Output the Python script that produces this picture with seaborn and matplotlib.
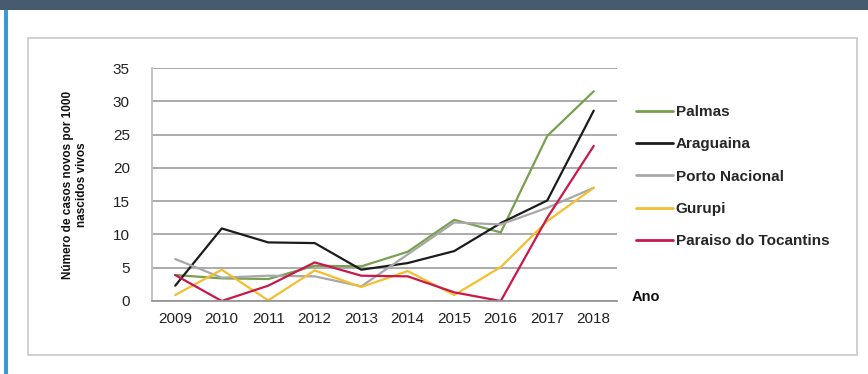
import matplotlib
matplotlib.use("Agg")
import matplotlib.pyplot as plt
import seaborn as sns
import pandas as pd
from matplotlib.patches import Rectangle
from matplotlib.lines import Line2D

years = [2009, 2010, 2011, 2012, 2013, 2014, 2015, 2016, 2017, 2018]
palmas = [3.9, 3.4, 3.3, 5.3, 5.2, 7.4, 12.2, 10.3, 24.8, 31.5]
araguaina = [2.3, 10.9, 8.8, 8.7, 4.7, 5.7, 7.5, 11.7, 15.1, 28.6]
porto_nacional = [6.3, 3.5, 3.8, 3.7, 2.2, 7.0, 11.8, 11.5, 14.0, 17.0]
gurupi = [0.9, 4.7, 0.1, 4.6, 2.1, 4.5, 0.9, 5.1, 12.0, 17.0]
paraiso = [3.9, 0.0, 2.3, 5.8, 3.8, 3.7, 1.3, 0.0, 12.5, 23.3]

series_names = ["Palmas", "Araguaina", "Porto Nacional", "Gurupi", "Paraiso do Tocantins"]
series_vals = [palmas, araguaina, porto_nacional, gurupi, paraiso]
colors = ["#79a04e", "#1c1c1c", "#a8a8a8", "#f4bf2e", "#c9184a"]

rows = []
for n, vals in zip(series_names, series_vals):
    for y, v in zip(years, vals):
        rows.append({"Ano": y, "valor": v, "serie": n})
df = pd.DataFrame(rows)

sns.set_theme(style="white")
plt.rcParams["font.family"] = ["Liberation Sans", "DejaVu Sans"]

fig = plt.figure(figsize=(8.68, 3.74), dpi=100)
W, H = 868, 374

# header bar
fig.patches.append(Rectangle((0, (H - 10) / H), 1, 10 / H, transform=fig.transFigure,
                             facecolor="#465a70", edgecolor="none", zorder=-10))
# blue left line
fig.patches.append(Rectangle((4 / W, 0), 4 / W, (H - 10) / H, transform=fig.transFigure,
                             facecolor="#3a98d8", edgecolor="none", zorder=-10))
# chart frame
fig.patches.append(Rectangle((28 / W, (H - 355) / H), (857 - 28) / W, (355 - 38) / H,
                             transform=fig.transFigure, facecolor="white",
                             edgecolor="#c8c8c8", linewidth=1.2, zorder=-10))

ax = fig.add_axes([152 / W, (H - 301) / H, (617 - 152) / W, (301 - 68) / H])
ax.set_facecolor("none")
ax.set_zorder(5)

sns.lineplot(data=df, x="Ano", y="valor", hue="serie", palette=colors,
             hue_order=series_names, linewidth=1.6, ax=ax, legend=False)

ax.set_xlim(2008.5, 2018.5)
ax.set_ylim(0, 35)
ax.set_yticks(range(0, 36, 5))
ax.set_xticks(years)
ax.set_xticks([y - 0.5 for y in years] + [2018.5], minor=True)
ax.tick_params(axis="x", which="major", length=0, labelsize=11, pad=8, colors="#222222")
ax.tick_params(axis="x", which="minor", length=4, color="#9a9a9a", direction="out")
ax.tick_params(axis="y", length=0, labelsize=11, pad=16, colors="#222222")
ax.yaxis.grid(True, color="#949494", linewidth=1.1)
ax.set_axisbelow(True)
for s in ["top", "right"]:
    ax.spines[s].set_visible(False)
ax.spines["left"].set_color("#bdbdbd")
ax.spines["bottom"].set_color("#949494")
ax.set_xlabel("")
ax.set_ylabel("")

# y label
fig.text(75 / W, 1 - 185 / H, "Número de casos novos por 1000\nnascidos vivos", rotation=90,
         ha="center", va="center", fontsize=8.5, fontweight="bold", color="#111111",
         linespacing=1.3)
# Ano
fig.text(632 / W, 1 - 297 / H, "Ano", ha="left", va="center", fontsize=10.5,
         fontweight="bold", color="#111111")

handles = [Line2D([0], [0], color=c, linewidth=2) for c in colors]
leg = fig.legend(handles, series_names, loc="upper left", bbox_to_anchor=(633 / W, 1 - 102 / H),
                 frameon=False, handlelength=2.4, handletextpad=0.2, labelspacing=1.2,
                 borderaxespad=0, borderpad=0.2,
                 prop={"weight": "bold", "size": 11})

fig.savefig("out.png", dpi=100)
